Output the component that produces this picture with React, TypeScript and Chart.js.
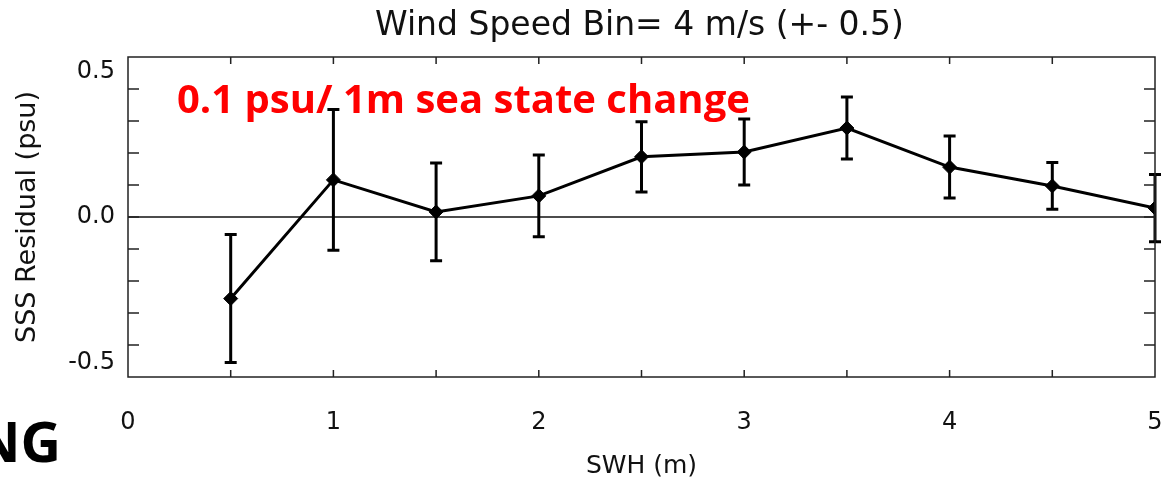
import React, { useEffect, useRef } from 'react';
import { Chart, registerables } from 'chart.js';

Chart.register(...registerables);

// ---- data ----
const swh = [0.5, 1, 1.5, 2, 2.5, 3, 3.5, 4, 4.5, 5];
const residual = [-0.255, 0.116, 0.016, 0.066, 0.188, 0.203, 0.278, 0.156, 0.097, 0.028];
const errorBar = [0.2, 0.22, 0.153, 0.128, 0.11, 0.103, 0.097, 0.097, 0.073, 0.105];
const xTickLabels = ['0', '1', '2', '3', '4', '5'];
const yTickLabels: (string | string[])[] = [['-0.5', ''], '0.0', ['', '0.5']];
const xMinorTicks = [0.5, 1, 1.5, 2, 2.5, 3, 3.5, 4, 4.5];
const yMinorTicks = [-0.4, -0.3, -0.2, -0.1, 0, 0.1, 0.2, 0.3, 0.4];
const chartTitle = 'Wind Speed Bin= 4 m/s (+- 0.5)';
const xAxisTitle = 'SWH (m)';
const yAxisTitle = 'SSS Residual (psu)';
const annotationText = '0.1 psu/ 1m sea state change';
const sideText = 'NG';

const TEXT = '#111';
const AXIS_FONT = 'DejaVu Sans';

const framePlugin = {
  id: 'frame',
  beforeDatasetsDraw(chart: any) {
    const { ctx, chartArea: a, scales } = chart;
    const x = scales.x;
    const y = scales.y;
    ctx.save();
    // zero line
    ctx.strokeStyle = '#111';
    ctx.lineWidth = 1.5;
    const y0 = y.getPixelForValue(0);
    ctx.beginPath();
    ctx.moveTo(a.left, y0);
    ctx.lineTo(a.right, y0);
    ctx.stroke();
    // error bars
    ctx.strokeStyle = '#000';
    ctx.lineWidth = 3;
    swh.forEach((v, i) => {
      const px = x.getPixelForValue(v);
      const top = y.getPixelForValue(residual[i] + errorBar[i]);
      const bot = y.getPixelForValue(residual[i] - errorBar[i]);
      ctx.beginPath();
      ctx.moveTo(px, top);
      ctx.lineTo(px, bot);
      ctx.moveTo(px - 6, top);
      ctx.lineTo(px + 6, top);
      ctx.moveTo(px - 6, bot);
      ctx.lineTo(px + 6, bot);
      ctx.stroke();
    });
    ctx.restore();
  },
  afterDraw(chart: any) {
    const { ctx, chartArea: a, scales } = chart;
    const x = scales.x;
    const y = scales.y;
    ctx.save();
    // frame box
    ctx.strokeStyle = '#222';
    ctx.lineWidth = 1.5;
    ctx.strokeRect(a.left, a.top, a.right - a.left, a.bottom - a.top);
    // tick marks (inward)
    ctx.beginPath();
    xMinorTicks.forEach((v) => {
      const px = x.getPixelForValue(v);
      ctx.moveTo(px, a.bottom);
      ctx.lineTo(px, a.bottom - 7);
      ctx.moveTo(px, a.top);
      ctx.lineTo(px, a.top + 7);
    });
    yMinorTicks.forEach((v) => {
      const py = y.getPixelForValue(v);
      ctx.moveTo(a.left, py);
      ctx.lineTo(a.left + 11, py);
      ctx.moveTo(a.right, py);
      ctx.lineTo(a.right - 11, py);
    });
    ctx.stroke();

    // title
    ctx.fillStyle = TEXT;
    ctx.font = `33px "${AXIS_FONT}"`;
    ctx.textAlign = 'center';
    ctx.textBaseline = 'alphabetic';
    ctx.fillText(chartTitle, (a.left + a.right) / 2 - 2, 35);

    // red annotation
    ctx.fillStyle = '#ff0000';
    ctx.font = 'bold 40px "Open Sans"';
    ctx.textAlign = 'left';
    ctx.fillText(annotationText, 177, 113);

    // side text
    ctx.fillStyle = '#000';
    ctx.font = 'bold 56px "Open Sans"';
    ctx.textAlign = 'right';
    ctx.fillText(sideText, 61, 462);
    ctx.restore();
  },
};

export default function App() {
  const ref = useRef<HTMLCanvasElement | null>(null);

  useEffect(() => {
    document.body.style.margin = '0';
    const canvas = ref.current;
    if (!canvas) return;
    const chart = new Chart(canvas, {
      type: 'scatter',
      data: {
        datasets: [
          {
            data: swh.map((v, i) => ({ x: v, y: residual[i] })),
            showLine: true,
            borderColor: '#000',
            backgroundColor: '#000',
            borderWidth: 3,
            pointStyle: 'rectRot',
            pointRadius: 7,
            pointBorderWidth: 1,
          },
        ],
      },
      options: {
        responsive: false,
        animation: false,
        events: [],
        layout: { padding: { left: 0, top: 57, right: 10, bottom: 0 } },
        plugins: {
          legend: { display: false },
          tooltip: { enabled: false },
          title: { display: false },
        },
        scales: {
          x: {
            type: 'linear',
            min: 0,
            max: 5,
            grid: { display: false, drawTicks: false },
            border: { display: false },
            ticks: {
              stepSize: 1,
              padding: 31,
              autoSkip: false,
              maxRotation: 0,
              color: TEXT,
              font: { family: AXIS_FONT, size: 24 },
              callback: (_v: any, i: number) => xTickLabels[i],
            },
            title: {
              display: true,
              text: xAxisTitle,
              color: TEXT,
              font: { family: AXIS_FONT, size: 25 },
              padding: { top: 0, bottom: 0 },
            },
            afterFit: (s: any) => {
              s.height = 104;
              s.paddingLeft = 0;
              s.paddingRight = 0;
            },
          },
          y: {
            type: 'linear',
            min: -0.5,
            max: 0.5,
            grid: { display: false, drawTicks: false },
            border: { display: false },
            ticks: {
              stepSize: 0.5,
              padding: 13,
              color: TEXT,
              font: { family: AXIS_FONT, size: 24, lineHeight: 1.2 },
              callback: (_v: any, i: number) => yTickLabels[i],
            },
            title: {
              display: true,
              text: yAxisTitle,
              color: TEXT,
              font: { family: AXIS_FONT, size: 27 },
              padding: { top: 12, bottom: 0 },
            },
            afterFit: (s: any) => {
              s.width = 128;
              s.paddingTop = 0;
              s.paddingBottom = 0;
            },
          },
        },
      },
      plugins: [framePlugin],
    });
    return () => chart.destroy();
  }, []);

  return (
    <div style={{ position: 'fixed', left: 0, top: 0, width: 1165, height: 481, background: '#fff' }}>
      <canvas ref={ref} width={1165} height={481} />
    </div>
  );
}
